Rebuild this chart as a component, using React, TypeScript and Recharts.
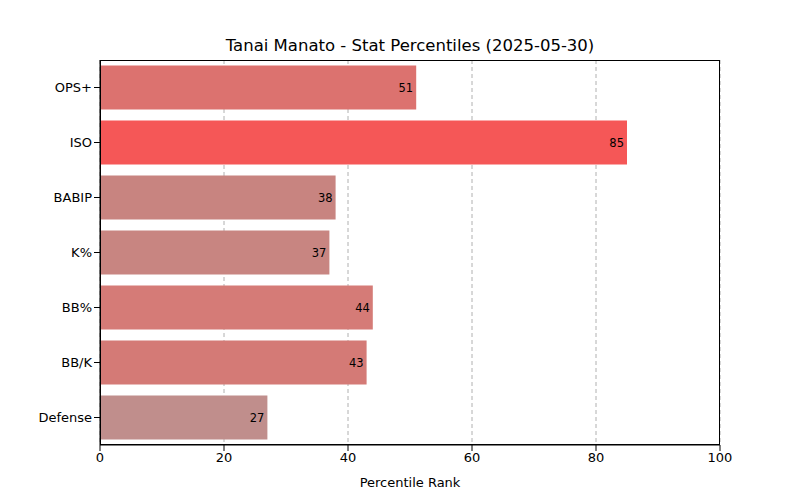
import { BarChart, Bar, XAxis, YAxis, CartesianGrid, Cell, LabelList } from "recharts";

const categories = ["OPS+", "ISO", "BABIP", "K%", "BB%", "BB/K", "Defense"];
const percentiles = [51, 85, 38, 37, 44, 43, 27];
const colors = ["#dc726f", "#f55757", "#c88480", "#c88581", "#d57b77", "#d47a76", "#c08e8c"];
const xTicks = [0, 20, 40, 60, 80, 100];

const data = categories.map((stat, i) => ({ stat, value: percentiles[i] }));
const font = "DejaVu Sans, sans-serif";

export default function App() {
  return (
    <div style={{ position: "absolute", left: 0, top: 0, width: 800, height: 500, background: "#fff", fontFamily: font }}>
      <div style={{ position: "absolute", top: 36, width: 800, paddingLeft: 20, textAlign: "center", fontSize: 16.5, color: "#000", boxSizing: "border-box" }}>
        Tanai Manato - Stat Percentiles (2025-05-30)
      </div>
      <BarChart
        width={800}
        height={500}
        layout="vertical"
        data={data}
        margin={{ top: 60, right: 80, bottom: 25, left: 10 }}
        barCategoryGap="10%"
      >
        <CartesianGrid horizontal={false} stroke="#b0b0b0" strokeDasharray="4 3" />
        <XAxis
          type="number"
          domain={[0, 100]}
          ticks={xTicks}
          height={30}
          tick={{ fill: "#000", fontSize: 13, fontFamily: font }}
          tickLine={{ stroke: "#000" }}
          axisLine={{ stroke: "#000" }}
          label={{ value: "Percentile Rank", position: "insideBottom", offset: -12, fill: "#000", fontSize: 13, fontFamily: font }}
        />
        <YAxis
          type="category"
          dataKey="stat"
          width={90}
          tick={{ fill: "#000", fontSize: 13, fontFamily: font }}
          tickLine={{ stroke: "#000" }}
          axisLine={{ stroke: "#000" }}
        />
        <Bar dataKey="value" isAnimationActive={false}>
          {data.map((d, i) => (
            <Cell key={d.stat} fill={colors[i]} />
          ))}
          <LabelList dataKey="value" position="insideRight" offset={3} fill="#000" fontSize={11.5} fontFamily={font} />
        </Bar>
      </BarChart>
      <div style={{ position: "absolute", left: 100, top: 60, width: 620, height: 385, border: "1px solid #000", boxSizing: "border-box", pointerEvents: "none" }} />
    </div>
  );
}
